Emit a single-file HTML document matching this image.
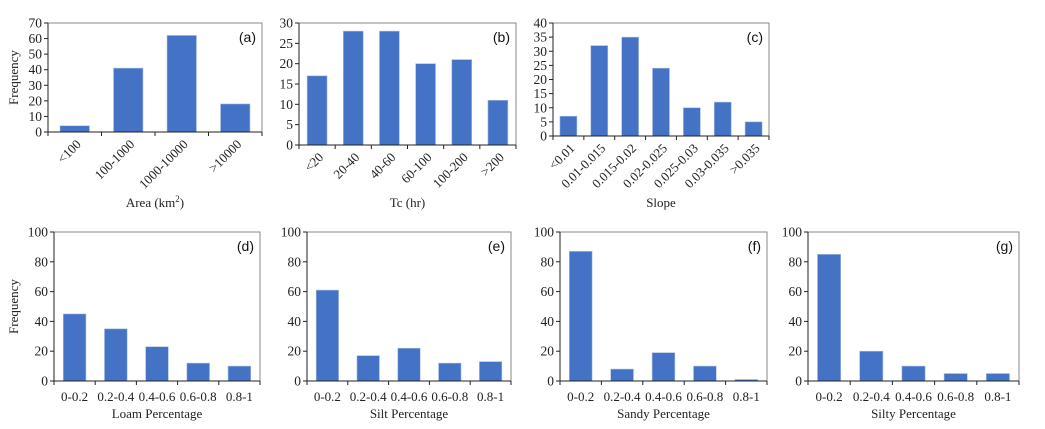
<!DOCTYPE html>
<html><head><meta charset="utf-8"><style>
body{margin:0;background:#fff;}
svg{display:block;}
text{font-family:"Liberation Serif","DejaVu Serif",serif;fill:#222;}
.pl{font-family:"Liberation Sans",sans-serif;font-size:14px;fill:#111;}
</style></head><body>
<svg id="chart" width="1045" height="429"></svg>
<script>
const catsA=["<100","100-1000","1000-10000",">10000"];
const valsA=[4,41,62,18];
const catsB=["<20","20-40","40-60","60-100","100-200",">200"];
const valsB=[17,28,28,20,21,11];
const catsC=["<0.01","0.01-0.015","0.015-0.02","0.02-0.025","0.025-0.03","0.03-0.035",">0.035"];
const valsC=[7,32,35,24,10,12,5];
const catsPct=["0-0.2","0.2-0.4","0.4-0.6","0.6-0.8","0.8-1"];
const valsD=[45,35,23,12,10];
const valsE=[61,17,22,12,13];
const valsF=[87,8,19,10,1];
const valsG=[85,20,10,5,5];
const ticksA=[0,10,20,30,40,50,60,70];
const ticksB=[0,5,10,15,20,25,30];
const ticksC=[0,5,10,15,20,25,30,35,40];
const ticksPct=[0,20,40,60,80,100];

const NS="http://www.w3.org/2000/svg";
const svg=document.getElementById('chart');
const SERIF='"Liberation Serif", "DejaVu Serif", serif';
function mk(tag,attrs,parent){const e=document.createElementNS(NS,tag);for(const k in attrs)e.setAttribute(k,attrs[k]);(parent||svg).appendChild(e);return e;}

function panel(p){
  const g=mk('g',{});
  
  
  const max=p.ticks[p.ticks.length-1];
  const y=v=>p.b-(v/max)*(p.b-p.t);
  const cw=(p.r-p.l)/p.cats.length;
  const x=i=>p.l+cw*i;
  const frame=mk('rect',{x:p.l,y:p.t,width:p.r-p.l,height:p.b-p.t,fill:'none',stroke:'#888','stroke-width':1},g);
  
  
  p.vals.forEach((v,i)=>{
    const bw=cw*0.55;
    const r=mk('rect',{x:x(i)+(cw-bw)/2,y:y(v),width:bw,height:p.b-y(v),fill:'#4472c4',stroke:'#a9bde3','stroke-width':0.6},g);
    
    
  });
  mk('line',{x1:p.l,y1:p.t,x2:p.l,y2:p.b,stroke:'#222'},g);
  mk('line',{x1:p.l,y1:p.b,x2:p.r,y2:p.b,stroke:'#222'},g);
  p.ticks.forEach(t=>{
    mk('line',{x1:p.l-4,y1:y(t),x2:p.l,y2:y(t),stroke:'#222'},g);
    const tx=mk('text',{x:p.l-6,y:y(t)+4.5,'text-anchor':'end','font-size':13.5,'font-family':SERIF},g);
    tx.textContent=t;
    
    
  });
  for(let i=0;i<=p.cats.length;i++) mk('line',{x1:x(i),y1:p.b,x2:x(i),y2:p.b+4,stroke:'#222'},g);
  p.cats.forEach((c,i)=>{
    const cx=x(i)+cw/2;
    let tx;
    if(p.rot){
      tx=mk('text',{x:cx+7,y:p.b+13,'text-anchor':'end','font-size':13,'font-family':SERIF,transform:`rotate(-45 ${cx+7} ${p.b+13})`},g);
    }else{
      tx=mk('text',{x:cx,y:p.b+20,'text-anchor':'middle','font-size':13,'font-family':SERIF},g);
    }
    tx.textContent=c;
    
    
  });
  const tt=mk('text',{x:(p.l+p.r)/2,y:p.ty,'text-anchor':'middle','font-size':13,'font-family':SERIF},g);
  tt.innerHTML=p.title;
  
  
  const pl=mk('text',{x:p.r-6,y:p.t+19,'text-anchor':'end',class:'pl'},g);
  pl.textContent='('+p.id+')';
  
  
  if(p.ylab){
    const yl=mk('text',{x:0,y:0,'text-anchor':'middle','font-size':13,'font-family':SERIF,transform:`translate(18 ${(p.t+p.b)/2}) rotate(-90)`},g);
    yl.textContent='Frequency';
    
    
  }
}
panel({id:'a',cats:catsA,vals:valsA,ticks:ticksA,l:48,r:262,t:23,b:132,rot:true,ty:207,title:'Area (km<tspan baseline-shift="super" font-size="9">2</tspan>)',ylab:true});
panel({id:'b',cats:catsB,vals:valsB,ticks:ticksB,l:299,r:516,t:23,b:145,rot:true,ty:207,title:'Tc (hr)'});
panel({id:'c',cats:catsC,vals:valsC,ticks:ticksC,l:553,r:769,t:23,b:136,rot:true,ty:207,title:'Slope'});
panel({id:'d',cats:catsPct,vals:valsD,ticks:ticksPct,l:54,r:260,t:232,b:381,ty:418,title:'Loam Percentage',ylab:true});
panel({id:'e',cats:catsPct,vals:valsE,ticks:ticksPct,l:307,r:511,t:232,b:381,ty:418,title:'Silt Percentage'});
panel({id:'f',cats:catsPct,vals:valsF,ticks:ticksPct,l:560,r:767,t:232,b:381,ty:418,title:'Sandy Percentage'});
panel({id:'g',cats:catsPct,vals:valsG,ticks:ticksPct,l:808,r:1019,t:232,b:381,ty:418,title:'Silty Percentage'});
</script>
</body></html>
